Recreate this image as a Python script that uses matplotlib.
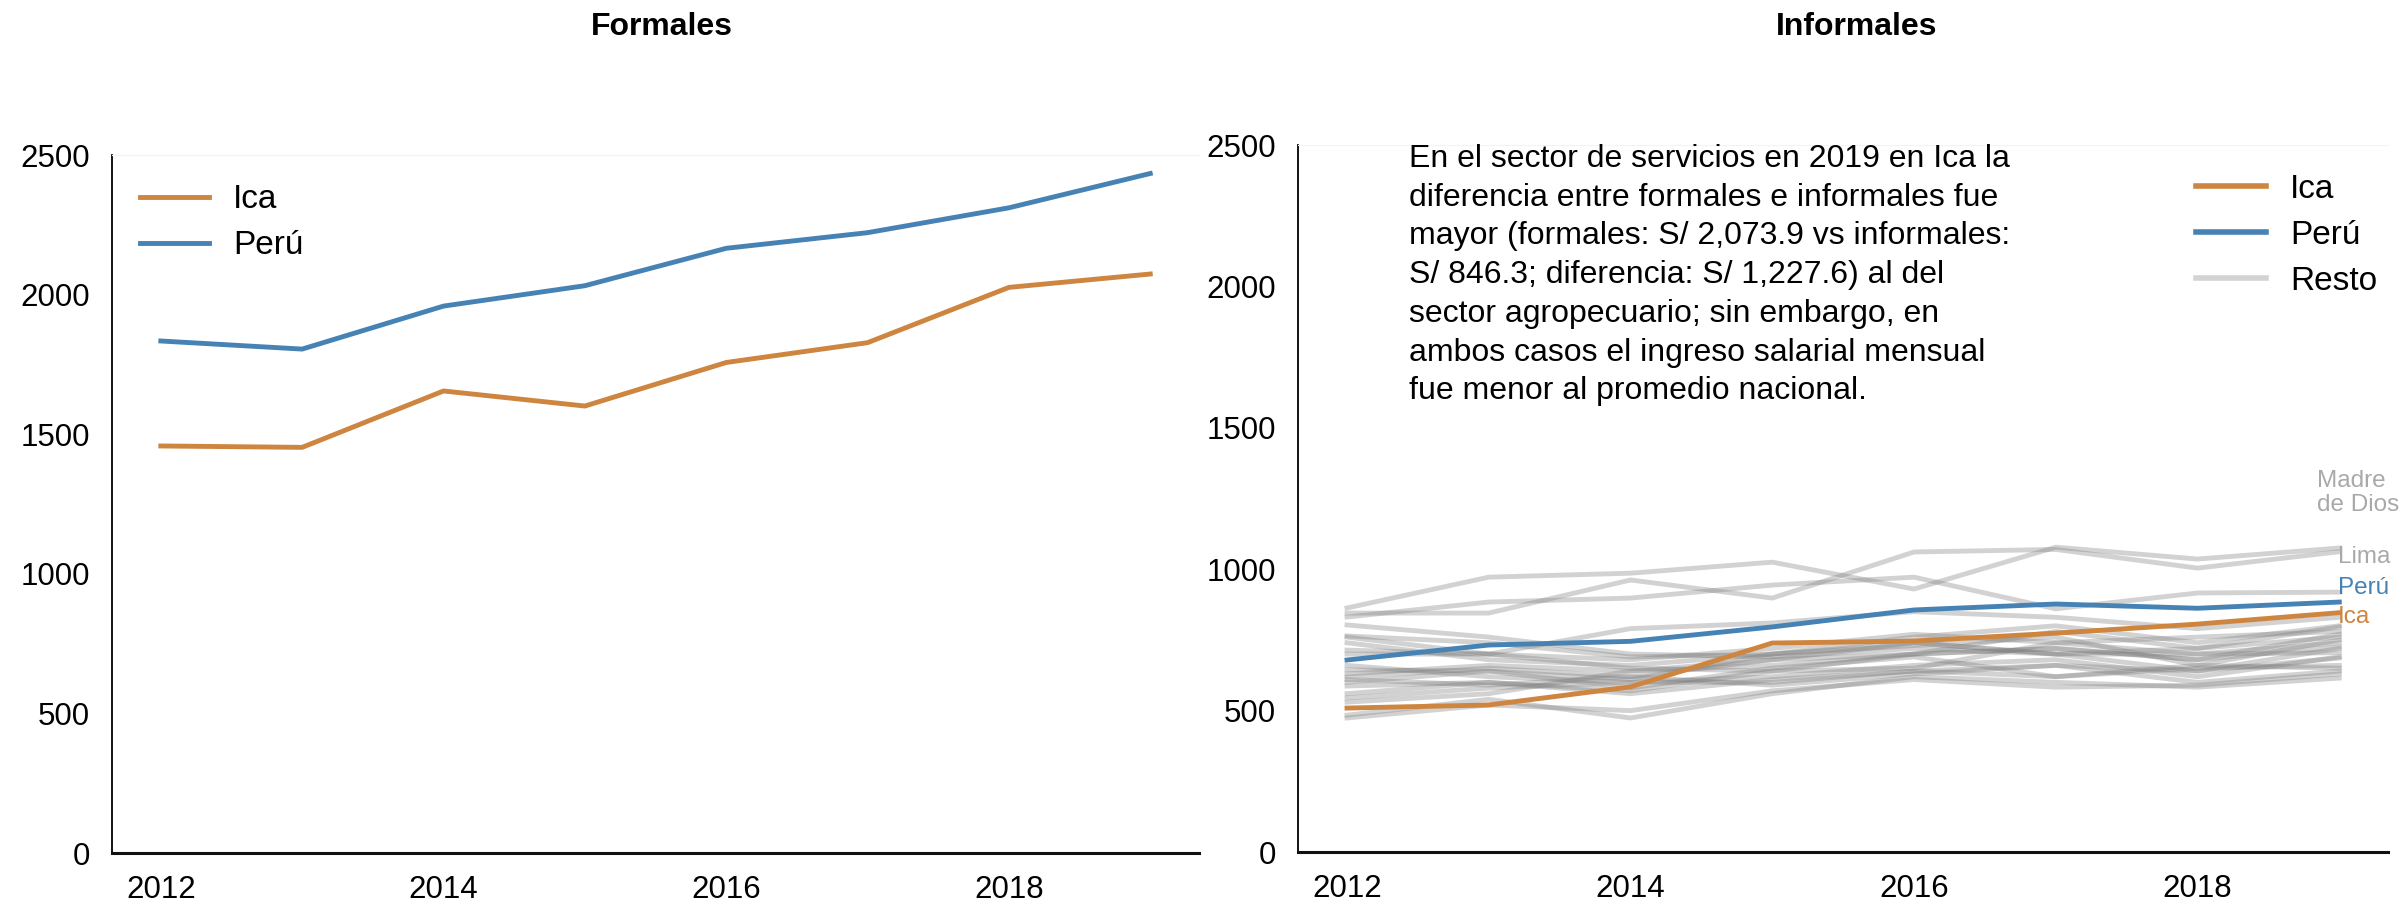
import numpy as np
import matplotlib
matplotlib.use("Agg")
import matplotlib.pyplot as plt
from matplotlib.lines import Line2D

plt.rcParams['font.family'] = ['Liberation Sans', 'DejaVu Sans']

years = [2012, 2013, 2014, 2015, 2016, 2017, 2018, 2019]

# Formales
ica_formal = [1458, 1453, 1655, 1601, 1757, 1828, 2026, 2073.9]
peru_formal = [1834, 1805, 1959, 2032, 2166, 2222, 2311, 2434]

# Informales
ica_informal = [509, 520, 584, 739, 746, 774, 806, 846.3]
peru_informal = [679, 732, 745, 796, 856, 877, 862, 884]
lima_informal = [863, 972, 986, 1025, 930, 1078, 1036, 1075]
madre_informal = [845, 845, 962, 898, 1061, 1070, 1004, 1062]

# resto de regiones (informales)
resto_informal = [
    [831, 884, 898, 944, 972, 860, 916, 919],
    [803, 760, 700, 690, 720, 700, 700, 740],
    [764, 740, 690, 700, 760, 800, 740, 800],
    [714, 700, 650, 640, 700, 720, 680, 770],
    [644, 640, 610, 700, 730, 760, 660, 750],
    [619, 650, 620, 680, 740, 700, 640, 720],
    [587, 600, 570, 640, 650, 740, 700, 705],
    [545, 580, 600, 620, 660, 680, 620, 690],
    [484, 540, 474, 560, 620, 600, 583, 615],
    [474, 520, 500, 570, 610, 583, 590, 630],
    [660, 620, 600, 600, 640, 620, 650, 660],
    [600, 640, 580, 650, 690, 620, 660, 650],
    [560, 600, 560, 610, 640, 660, 600, 640],
    [630, 660, 640, 660, 700, 780, 720, 760],
    [700, 700, 790, 810, 850, 830, 790, 830],
    [760, 700, 680, 720, 770, 740, 760, 780],
    [530, 560, 640, 680, 700, 720, 680, 725],
    [610, 590, 620, 590, 630, 660, 640, 686],
    [740, 680, 660, 700, 740, 700, 720, 796],
]

c_ica = '#CD853F'
c_peru = '#4682B4'
c_resto = 'grey'
c_label = '#A9A9A9'

fig = plt.figure(figsize=(23.99, 9.02), dpi=100)
ax1 = fig.add_axes([0.0467, 0.0543, 0.4531, 0.7738])
ax2 = fig.add_axes([0.5411, 0.0554, 0.4544, 0.7838])


def style_axis(ax):
    ax.set_xlim(2011.655, 2019.345)
    ax.set_ylim(0, 2500)
    ax.set_xticks([2012, 2014, 2016, 2018])
    ax.set_yticks([0, 500, 1000, 1500, 2000, 2500])
    ax.tick_params(length=0, labelsize=22.5, pad=16)
    ax.spines['right'].set_visible(False)
    ax.spines['top'].set_color('#F3F3F3')
    ax.spines['left'].set_linewidth(1.3)
    ax.spines['bottom'].set_linewidth(2.2)
    ax.spines['bottom'].set_color('#111111')


# Panel izquierdo: formales
ax1.plot(years, ica_formal, color=c_ica, lw=3.5, label='Ica')
ax1.plot(years, peru_formal, color=c_peru, lw=3.5, label='Perú')
style_axis(ax1)
ax1.legend(loc='upper left', bbox_to_anchor=(0.026, 0.958), frameon=False,
           fontsize=24, handlelength=2.07, handletextpad=0.72,
           labelspacing=0.45, borderpad=0, borderaxespad=0)

# Panel derecho: informales
for serie in resto_informal + [lima_informal, madre_informal]:
    ax2.plot(years, serie, color=c_resto, lw=3.5, alpha=0.35)
ax2.plot(years, ica_informal, color=c_ica, lw=3.5)
ax2.plot(years, peru_informal, color=c_peru, lw=3.5)
style_axis(ax2)

handles = [Line2D([], [], color=c_ica, lw=4),
           Line2D([], [], color=c_peru, lw=4),
           Line2D([], [], color='#D3D3D3', lw=4)]
ax2.legend(handles, ['Ica', 'Perú', 'Resto'], loc='upper left',
           bbox_to_anchor=(0.824, 0.959), frameon=False, fontsize=24,
           handlelength=2.1, handletextpad=0.72, labelspacing=0.45,
           borderpad=0, borderaxespad=0)

# etiquetas al final de las lineas
ax2.text(2018.99, ica_informal[-1] - 15, 'Ica', color=c_ica, fontsize=17.5,
         va='center', ha='left')
ax2.text(2018.99, peru_informal[-1] + 50, 'Perú', color=c_peru, fontsize=17.5,
         va='center', ha='left')
ax2.text(2018.99, lima_informal[-1] - 32, 'Lima', color=c_label, fontsize=17.5,
         va='center', ha='left')
ax2.text(2018.84, madre_informal[-1] + 207, 'Madre\nde Dios', color=c_label,
         fontsize=17.5, va='center', ha='left', linespacing=1.15)

nota = ('En el sector de servicios en 2019 en Ica la\n'
        'diferencia entre formales e informales fue\n'
        'mayor (formales: S/ 2,073.9 vs informales:\n'
        'S/ 846.3; diferencia: S/ 1,227.6) al del\n'
        'sector agropecuario; sin embargo, en\n'
        'ambos casos el ingreso salarial mensual\n'
        'fue menor al promedio nacional.')
fig.text(0.5873, 0.8405, nota, fontsize=23, va='top', ha='left',
         linespacing=1.38)

fig.text(0.276, 0.970, 'Formales', fontsize=23, fontweight='bold',
         ha='center', va='center')
fig.text(0.774, 0.970, 'Informales', fontsize=23, fontweight='bold',
         ha='center', va='center')

fig.savefig('out.png', dpi=100)
